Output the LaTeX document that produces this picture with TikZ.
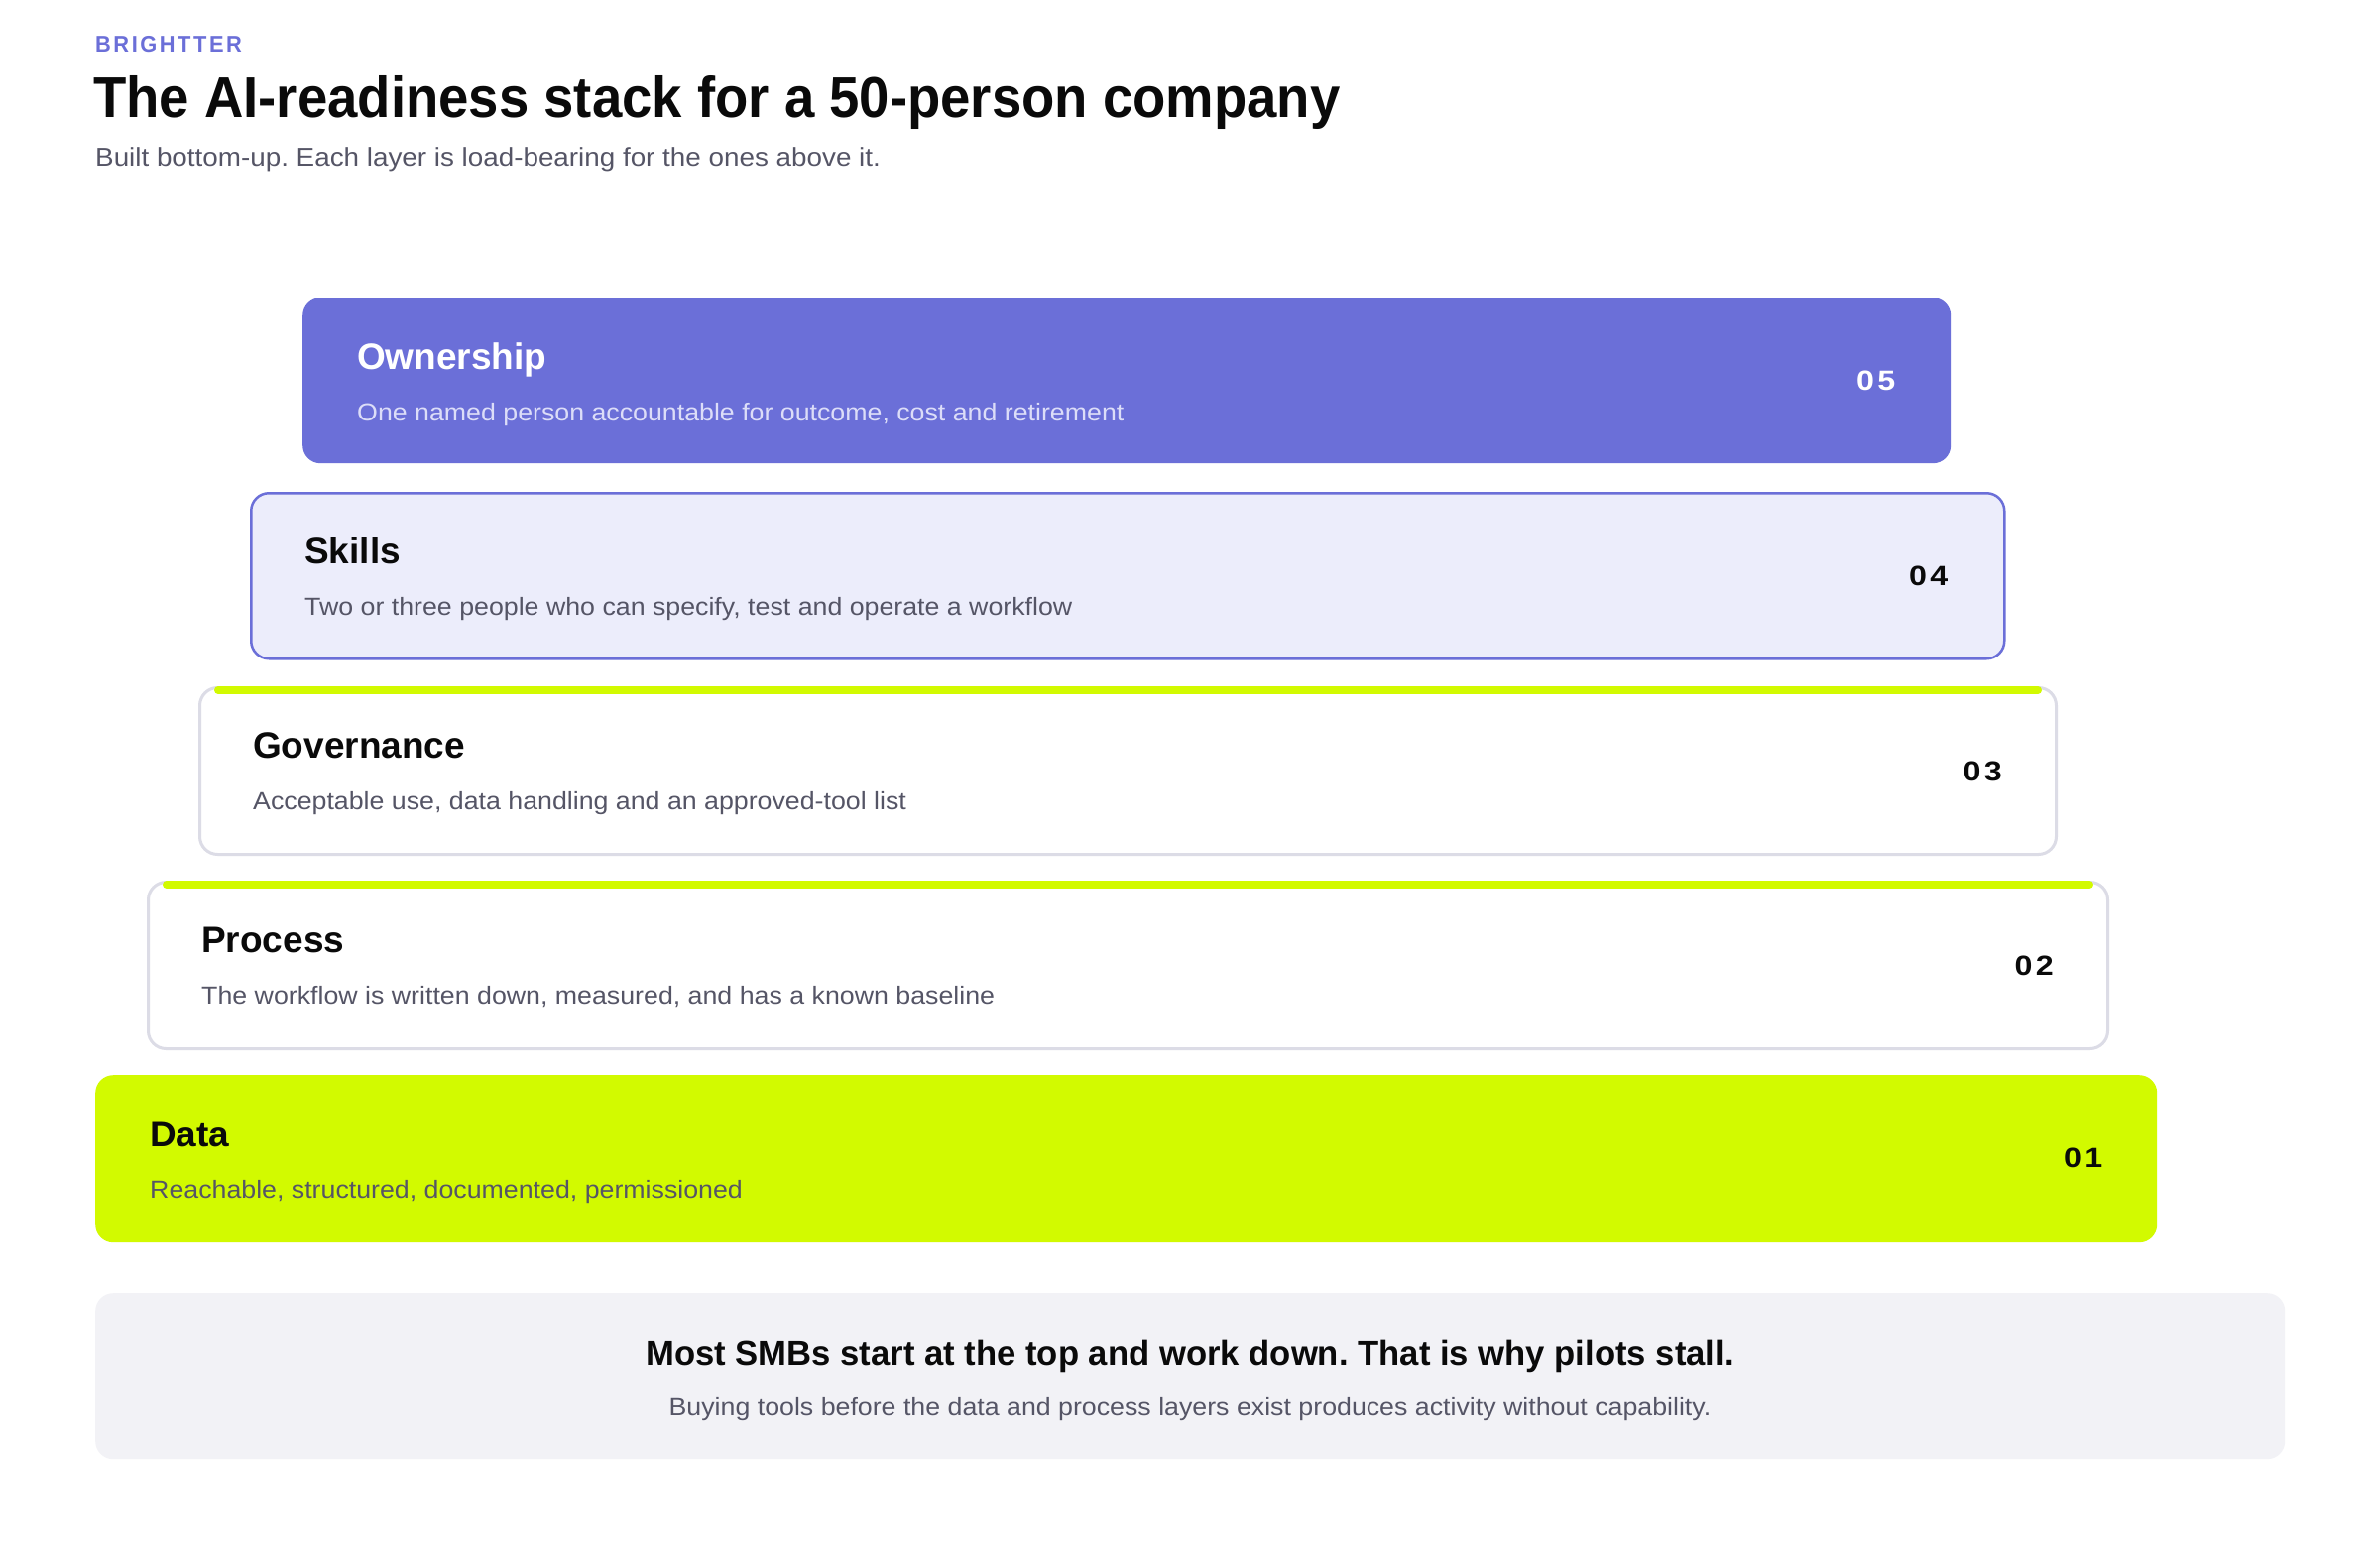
\documentclass[tikz,border=0pt]{standalone}
\usepackage{fontspec}
\setmainfont{Liberation Sans}
\frenchspacing
\newfontfamily\headf[FakeStretch=0.94]{Liberation Sans}
\newfontfamily\bodyf[FakeStretch=1.07]{Liberation Sans}
\newfontfamily\boxtf[FakeStretch=1.0]{Liberation Sans}
\newfontfamily\numf[FakeStretch=1.15,LetterSpace=12]{Liberation Sans}
\newfontfamily\brandf[FakeStretch=0.95,LetterSpace=11]{Liberation Sans}
\newfontfamily\notef[FakeStretch=0.99]{Liberation Sans}
\definecolor{brand}{HTML}{6B6FD8}
\definecolor{skillfill}{HTML}{ECEDFB}
\definecolor{lime}{HTML}{D2FA00}
\definecolor{edge}{HTML}{DCDCE6}
\definecolor{notefill}{HTML}{F2F2F6}
\definecolor{subgray}{HTML}{555566}
\definecolor{ink}{HTML}{0A0A0A}
\definecolor{lav}{HTML}{DCDDF8}
\begin{document}
\begin{tikzpicture}[x=1pt,y=-1pt,
  layer/.style={anchor=north west, rounded corners=18pt, inner sep=0pt, minimum height=167pt},
  ttl/.style={anchor=base west, inner sep=0pt, font=\boxtf\bfseries\fontsize{37}{40}\selectfont, text=ink},
  sub/.style={anchor=base west, inner sep=0pt, font=\bodyf\fontsize{25}{28}\selectfont, text=subgray},
  num/.style={anchor=east, inner sep=0pt, font=\numf\bfseries\fontsize{28}{30}\selectfont, text=ink},
  bar/.style={line width=8pt, line cap=round, draw=lime}]
\fill[white] (0,0) rectangle (2400,1564);
\useasboundingbox (0,0) rectangle (2400,1564);

% header
\node[anchor=base west, inner sep=0pt, font=\brandf\bfseries\fontsize{23}{26}\selectfont, text=brand] (brand) at (96,52) {BRIGHTTER};
\node[anchor=base west, inner sep=0pt, font=\headf\bfseries\fontsize{58}{62}\selectfont, text=ink] (title) at (94,118) {The AI-readiness stack for a 50-person company};
\node[anchor=base west, inner sep=0pt, font=\bodyf\fontsize{26}{30}\selectfont, text=subgray] (subtitle) at (96,167) {Built bottom-up. Each layer is load-bearing for the ones above it.};

% layers
\node[layer, fill=brand, minimum width=1662pt] (own) at (305,300) {};
\node[layer, fill=skillfill, draw=brand, line width=2.5pt, minimum width=1768pt] (skl) at (252,496) {};
\node[layer, fill=white, draw=edge, line width=3pt, minimum width=1872pt, minimum height=168pt] (gov) at (200,692) {};
\node[layer, fill=white, draw=edge, line width=3pt, minimum width=1976pt, minimum height=168pt] (proc) at (148,888) {};
\node[layer, fill=lime, minimum width=2079pt, minimum height=168pt] (data) at (96,1084) {};

\draw[bar] ([xshift=20pt,yshift=-4pt]gov.north west) -- ([xshift=-20pt,yshift=-4pt]gov.north east);
\draw[bar] ([xshift=20pt,yshift=-4pt]proc.north west) -- ([xshift=-20pt,yshift=-4pt]proc.north east);

% Ownership
\node[ttl, text=white] (own-t) at ([xshift=55pt,yshift=-72pt]own.north west) {Ownership};
\node[sub, text=lav] (own-s) at ([xshift=55pt,yshift=-124pt]own.north west) {One named person accountable for outcome, cost and retirement};
\node[num, text=white] (own-n) at ([xshift=-56pt]own.east) {05};
% Skills
\node[ttl] (skl-t) at ([xshift=55pt,yshift=-72pt]skl.north west) {Skills};
\node[sub] (skl-s) at ([xshift=55pt,yshift=-124pt]skl.north west) {Two or three people who can specify, test and operate a workflow};
\node[num] (skl-n) at ([xshift=-58pt]skl.east) {04};
% Governance
\node[ttl] (gov-t) at ([xshift=55pt,yshift=-72pt]gov.north west) {Governance};
\node[sub] (gov-s) at ([xshift=55pt,yshift=-124pt]gov.north west) {Acceptable use, data handling and an approved-tool list};
\node[num] (gov-n) at ([xshift=-56pt]gov.east) {03};
% Process
\node[ttl] (proc-t) at ([xshift=55pt,yshift=-72pt]proc.north west) {Process};
\node[sub] (proc-s) at ([xshift=55pt,yshift=-124pt]proc.north west) {The workflow is written down, measured, and has a known baseline};
\node[num] (proc-n) at ([xshift=-56pt]proc.east) {02};
% Data
\node[ttl] (data-t) at ([xshift=55pt,yshift=-72pt]data.north west) {Data};
\node[sub] (data-s) at ([xshift=55pt,yshift=-124pt]data.north west) {Reachable, structured, documented, permissioned};
\node[num] (data-n) at ([xshift=-55pt]data.east) {01};

% note
\node[layer, fill=notefill, minimum width=2208pt] (note) at (96,1304) {};
\node[anchor=base, inner sep=0pt, font=\notef\bfseries\fontsize{35}{38}\selectfont, text=ink] (note-t) at (1200,1376) {Most SMBs start at the top and work down. That is why pilots stall.};
\node[anchor=base, inner sep=0pt, font=\bodyf\fontsize{25}{28}\selectfont, text=subgray] (note-s) at (1200,1427) {Buying tools before the data and process layers exist produces activity without capability.};
\end{tikzpicture}
\end{document}
